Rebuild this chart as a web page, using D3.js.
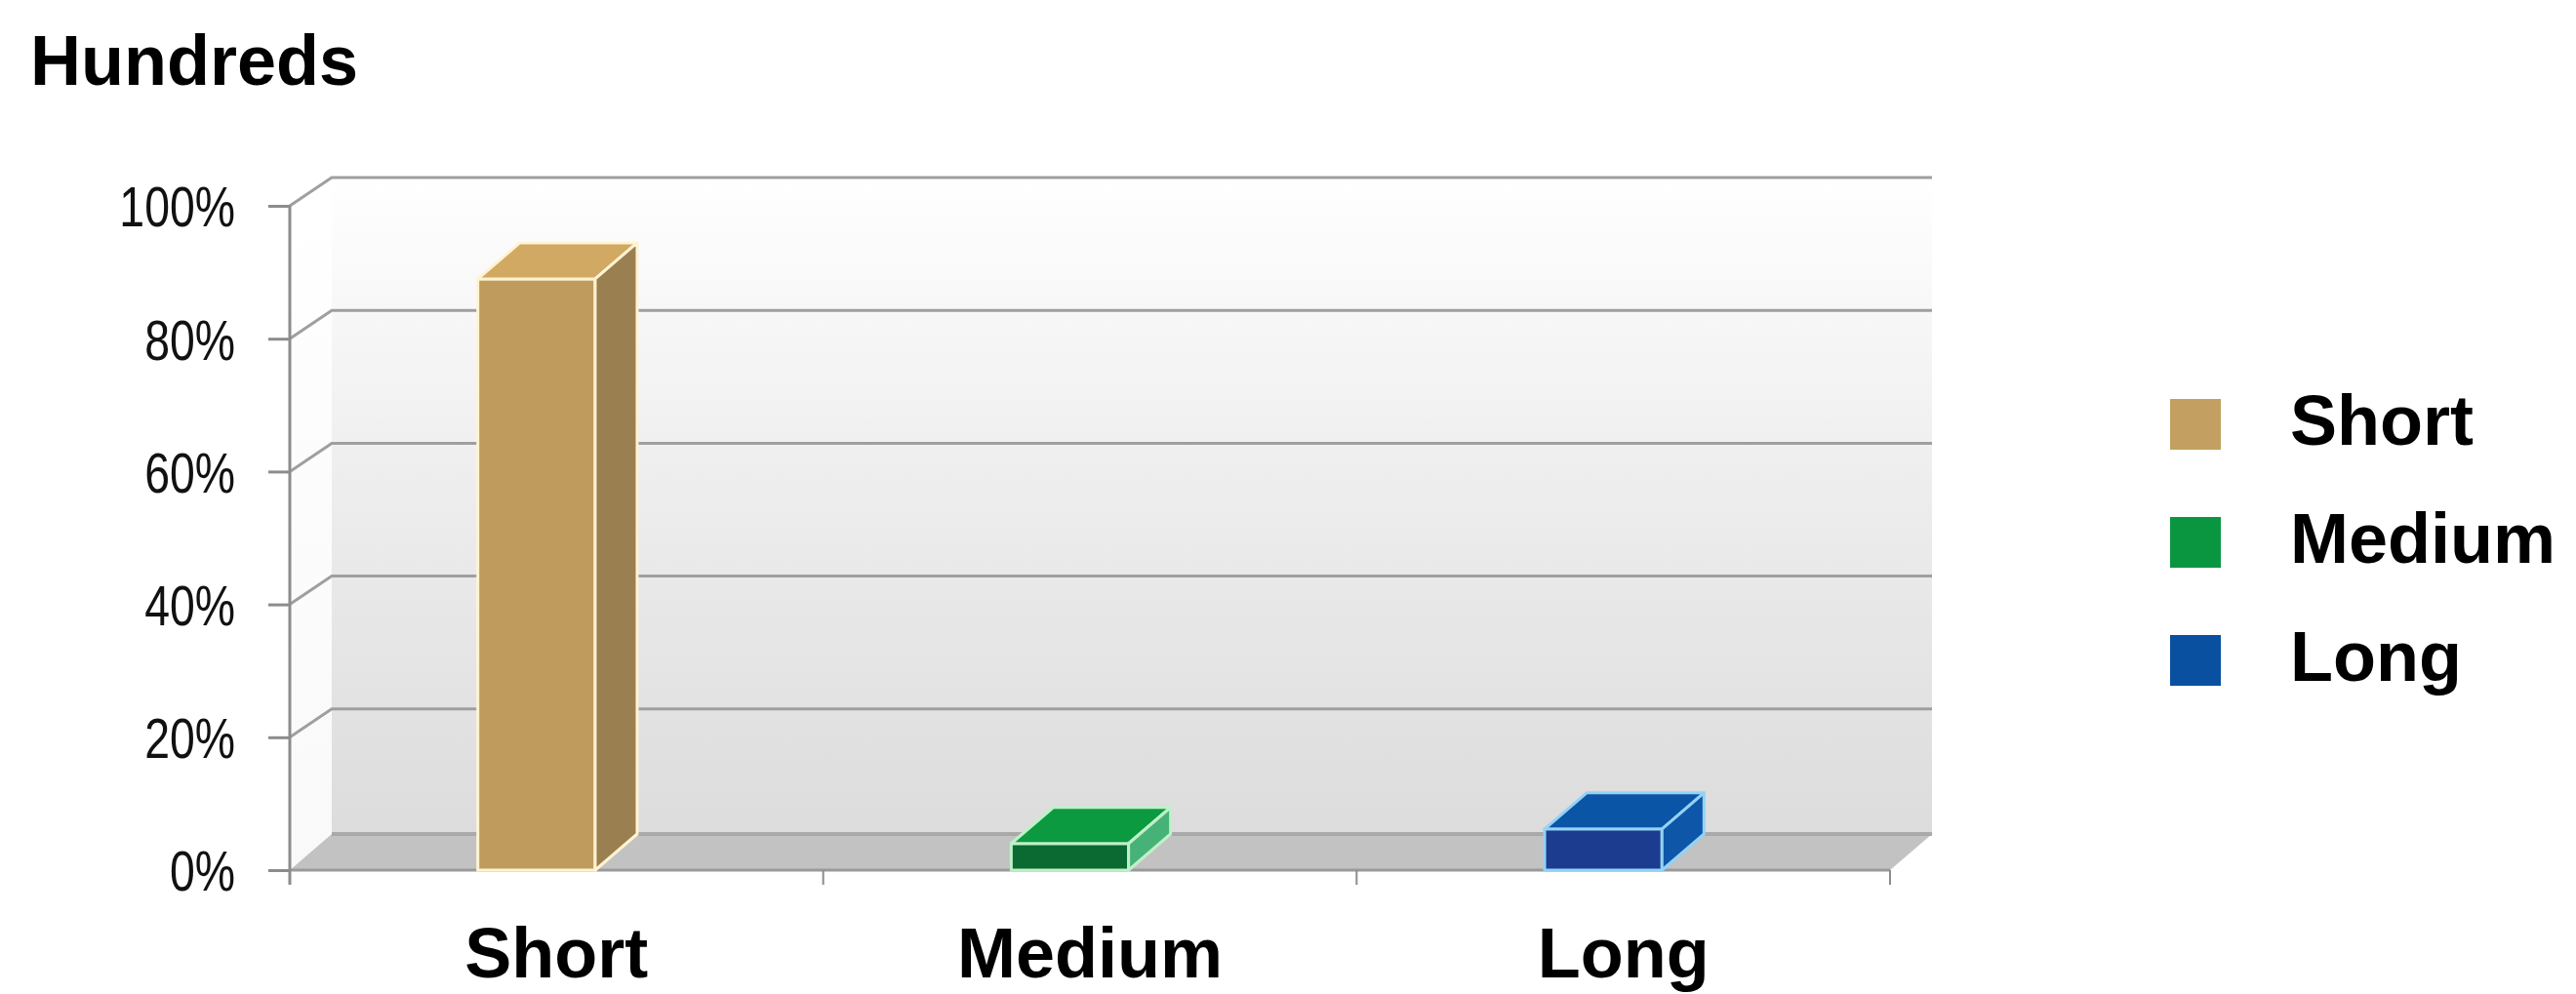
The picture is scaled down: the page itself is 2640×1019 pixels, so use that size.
<!DOCTYPE html>
<html>
<head>
<meta charset="utf-8">
<script src="https://cdn.jsdelivr.net/npm/d3@7"></script>
<style>
  body { margin: 0; background: #fff; }
  text { font-family: "Liberation Sans", Arial, Helvetica, sans-serif; }
</style>
</head>
<body>
<div class="canvas"></div>
<script>
// data
const categories = ['Short', 'Medium', 'Long'];
const values = [89, 4, 6.2];           // percent
const yTicks = [0, 20, 40, 60, 80, 100];
const yTickLabels = ['0%', '20%', '40%', '60%', '80%', '100%'];
const title = 'Hundreds';

// colours per category: front, top, side, edge
const colours = {
  Short:  {front: '#bf9c5d', top: '#d1a962', side: '#9a7f50', edge: '#fff3d2', key: '#c3a061'},
  Medium: {front: '#0b6a31', top: '#0b9a40', side: '#47b277', edge: '#bff0c9', key: '#0a9641'},
  Long:   {front: '#1b3c8f', top: '#0b55a6', side: '#0d56a8', edge: '#93d2f6', key: '#0a50a1'}
};

const dims = {width: 2640, height: 1019};
const depth = {dx: 43, dy: 37};   // 3d offset for floor + bars
const gridDy = 29;                // offset of the wall gridlines

const svg = d3.select('.canvas')
  .append('svg')
  .attr('width', dims.width)
  .attr('height', dims.height);

// scales
const y = d3.scaleLinear().domain([0, 100]).range([892, 211]);
const x = d3.scaleBand().domain(categories).range([297, 1937]).padding(0);

const y0 = y(0);
const xL = x.range()[0], xR = x.range()[1];

// gradient for back wall
const defs = svg.append('defs');
const grad = defs.append('linearGradient').attr('id', 'wall').attr('x1', 0).attr('x2', 0).attr('y1', 0).attr('y2', 1);
grad.append('stop').attr('offset', '0%').attr('stop-color', '#ffffff');
grad.append('stop').attr('offset', '45%').attr('stop-color', '#eeeeee');
grad.append('stop').attr('offset', '100%').attr('stop-color', '#dcdcdc');

const gradSide = defs.append('linearGradient').attr('id', 'side').attr('x1', 0).attr('x2', 0).attr('y1', 0).attr('y2', 1);
gradSide.append('stop').attr('offset', '0%').attr('stop-color', '#ffffff');
gradSide.append('stop').attr('offset', '100%').attr('stop-color', '#f9f9f9');

// title
svg.append('text')
  .attr('x', 31).attr('y', 87)
  .attr('font-size', 72).attr('font-weight', 'bold')
  .attr('fill', '#000')
  .text(title);

const plot = svg.append('g');

// back wall
plot.append('rect')
  .attr('x', xL + depth.dx).attr('y', y(100) - gridDy)
  .attr('width', xR - xL).attr('height', (y0 - depth.dy) - (y(100) - gridDy))
  .attr('fill', 'url(#wall)');

// side wall
plot.append('path')
  .attr('d', `M${xL},${y(100)} L${xL + depth.dx},${y(100) - gridDy} L${xL + depth.dx},${y0 - depth.dy} L${xL},${y0} Z`)
  .attr('fill', 'url(#side)');

// gridlines on walls
const grid = yTicks.filter(d => d > 0);
plot.selectAll('.grid')
  .data(grid)
  .enter().append('path')
  .attr('class', 'grid')
  .attr('fill', 'none')
  .attr('stroke', '#9f9f9f')
  .attr('stroke-width', 3)
  .attr('d', d => `M${xL},${y(d)} L${xL + depth.dx},${y(d) - gridDy} L${xR + depth.dx},${y(d) - gridDy}`);

// floor
plot.append('path')
  .attr('d', `M${xL},${y0} L${xL + depth.dx},${y0 - depth.dy} L${xR + depth.dx},${y0 - depth.dy} L${xR},${y0} Z`)
  .attr('fill', '#c2c2c2');
plot.append('line')
  .attr('x1', xL + depth.dx).attr('x2', xR + depth.dx)
  .attr('y1', y0 - depth.dy).attr('y2', y0 - depth.dy)
  .attr('stroke', '#a9a9a9').attr('stroke-width', 4);
plot.append('line')
  .attr('x1', xL).attr('x2', xR)
  .attr('y1', y0).attr('y2', y0)
  .attr('stroke', '#9a9a9a').attr('stroke-width', 3);

// y axis (ticks + labels)
const yAxis = d3.axisLeft(y)
  .tickValues(yTicks)
  .tickFormat((d, i) => yTickLabels[i])
  .tickSize(22)
  .tickPadding(56);

const yg = svg.append('g')
  .attr('transform', `translate(${xL},0)`)
  .call(yAxis);
yg.select('.domain').remove();
yg.selectAll('.tick line').attr('stroke', '#8c8c8c').attr('stroke-width', 3);
// labels are a condensed face in the original -> squeeze them horizontally,
// keep the right edge where the axis put it
yg.selectAll('.tick text')
  .attr('font-size', 58)
  .attr('fill', '#111')
  .attr('dy', '0.36em')
  .each(function() {
    const t = d3.select(this);
    const w = this.getComputedTextLength() * 0.8;
    t.attr('text-anchor', 'start')
      .attr('x', -56 - w)
      .attr('textLength', w)
      .attr('lengthAdjust', 'spacingAndGlyphs');
  });

// vertical axis line
svg.append('line')
  .attr('x1', xL).attr('x2', xL)
  .attr('y1', y(100)).attr('y2', y0 + 15)
  .attr('stroke', '#8c8c8c').attr('stroke-width', 3);

// x axis ticks at band edges
const edges = categories.map(c => x(c) + x.bandwidth());
svg.selectAll('.xtick')
  .data(edges)
  .enter().append('line')
  .attr('class', 'xtick')
  .attr('x1', d => d).attr('x2', d => d)
  .attr('y1', y0).attr('y2', y0 + 15)
  .attr('stroke', '#8c8c8c').attr('stroke-width', 2);

// x labels
svg.selectAll('.xlabel')
  .data(categories)
  .enter().append('text')
  .attr('class', 'xlabel')
  .attr('x', d => x(d) + x.bandwidth() / 2)
  .attr('y', 1002)
  .attr('text-anchor', 'middle')
  .attr('font-size', 72).attr('font-weight', 'bold')
  .attr('fill', '#000')
  .text(d => d);

// bars (3d boxes)
const barW = x.bandwidth() * 0.22;
const bars = plot.selectAll('.bar')
  .data(categories.map((c, i) => ({cat: c, value: values[i]})))
  .enter().append('g')
  .attr('class', 'bar');

const bx = d => x(d.cat) + x.bandwidth() / 2 - (barW + depth.dx) / 2 + 1;

bars.append('rect')
  .attr('x', bx)
  .attr('y', d => y(d.value))
  .attr('width', barW)
  .attr('height', d => y0 - y(d.value))
  .attr('fill', d => colours[d.cat].front)
  .attr('stroke', d => colours[d.cat].edge)
  .attr('stroke-width', 3);

bars.append('path')
  .attr('d', d => {
    const x0 = bx(d), yt = y(d.value);
    return `M${x0},${yt} L${x0 + depth.dx},${yt - depth.dy} L${x0 + barW + depth.dx},${yt - depth.dy} L${x0 + barW},${yt} Z`;
  })
  .attr('fill', d => colours[d.cat].top)
  .attr('stroke', d => colours[d.cat].edge)
  .attr('stroke-width', 3)
  .attr('stroke-linejoin', 'round');

bars.append('path')
  .attr('d', d => {
    const x0 = bx(d) + barW, yt = y(d.value);
    return `M${x0},${yt} L${x0 + depth.dx},${yt - depth.dy} L${x0 + depth.dx},${y0 - depth.dy} L${x0},${y0} Z`;
  })
  .attr('fill', d => colours[d.cat].side)
  .attr('stroke', d => colours[d.cat].edge)
  .attr('stroke-width', 3)
  .attr('stroke-linejoin', 'round');

// legend
const legend = svg.append('g').attr('transform', 'translate(2224,0)');
const ly = d3.scalePoint().domain(categories).range([435, 677]);

legend.selectAll('rect')
  .data(categories)
  .enter().append('rect')
  .attr('x', 0)
  .attr('y', d => ly(d) - 26)
  .attr('width', 52).attr('height', 52)
  .attr('fill', d => colours[d].key);

legend.selectAll('text')
  .data(categories)
  .enter().append('text')
  .attr('x', 123)
  .attr('y', d => ly(d) + 21)
  .attr('font-size', 72).attr('font-weight', 'bold')
  .attr('fill', '#000')
  .text(d => d);
</script>
</body>
</html>
